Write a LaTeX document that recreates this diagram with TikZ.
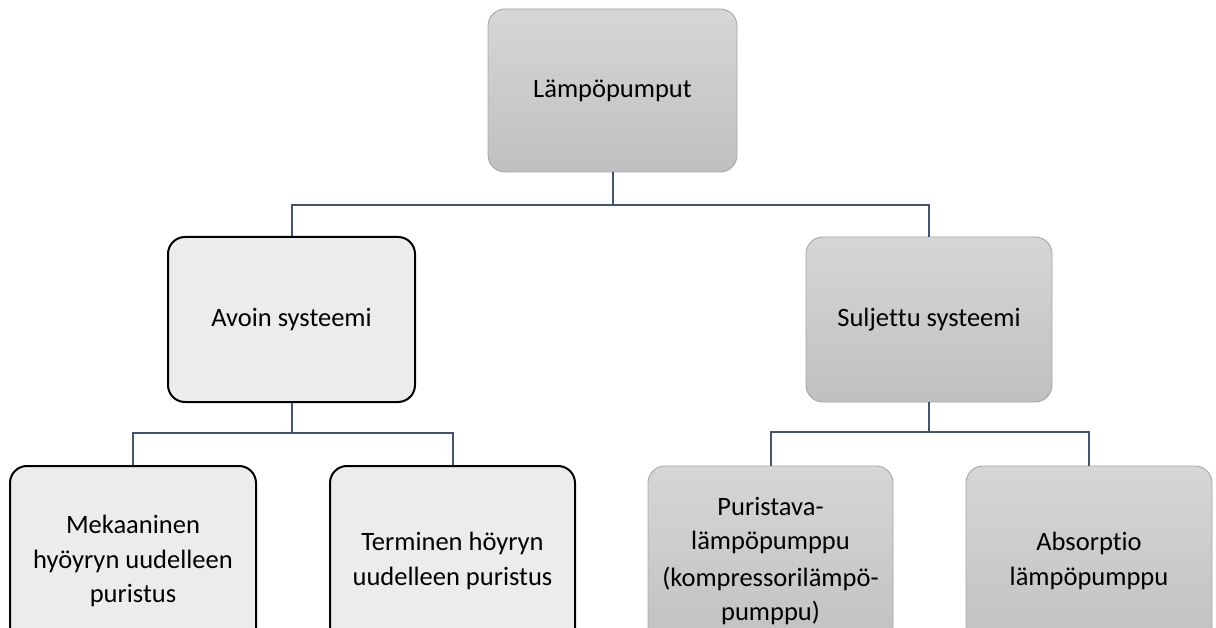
\documentclass[tikz,border=0pt]{standalone}
\usepackage{fontspec}
\setmainfont{Carlito}[Ligatures={NoCommon,NoRare,NoContextual}]
\definecolor{conncol}{HTML}{44546A}
\definecolor{lightfill}{HTML}{ECECEC}
\definecolor{graytop}{HTML}{D6D6D6}
\definecolor{graybot}{HTML}{C0C0C0}
\definecolor{grayline}{HTML}{A6A6A6}
\begin{document}
\begin{tikzpicture}[x=1pt,y=-1pt,
  txt/.style={align=center,font=\fontsize{26.5}{34.5}\selectfont,text=black},
  graybox/.style={txt,rectangle,rounded corners=17pt,draw=grayline,line width=0.9pt,
    top color=graytop,bottom color=graybot,inner sep=0pt},
  lightbox/.style={txt,rectangle,rounded corners=17pt,draw=black,line width=2pt,
    fill=lightfill,inner sep=0pt},
  conn/.style={draw=conncol,line width=2pt,line join=miter}]
\useasboundingbox (0,0) rectangle (1216,628);
\clip (0,0) rectangle (1216,628);
\fill[white] (0,0) rectangle (1216,628);

\node[graybox,minimum width=249pt,minimum height=163pt] (top) at (612.5,90.5) {Lämpöpumput};
\node[lightbox,minimum width=247pt,minimum height=165pt] (avoin) at (291.5,319.5) {Avoin systeemi};
\node[graybox,minimum width=246pt,minimum height=165pt] (sulj) at (929,319.5) {Sulje\kern0pt t\kern0pt tu systeemi};

\node[lightbox,minimum width=246pt,minimum height=190pt] (mek) at (133,561) {Mekaaninen\\hyöyryn uudelleen\\puristus};
\node[lightbox,minimum width=245pt,minimum height=190pt] (term) at (452.5,561) {Terminen höyryn\\uudelleen puristus};
\node[graybox,minimum width=245pt,minimum height=190pt] (pur) at (770.5,561) {Puristava-\\lämpöpumppu\\[2pt](kompressorilämpö-\\pumppu)};
\node[graybox,minimum width=246pt,minimum height=190pt] (abs) at (1089,561) {Absorpt\kern0pt io\\lämpöpumppu};

\draw[conn] (top.south) -- ++(0,33) coordinate (j1);
\draw[conn] (avoin.north) |- (j1) -| (sulj.north);
\draw[conn] (avoin.south) -- ++(0,30) coordinate (j2);
\draw[conn] (mek.north) |- (j2) -| (term.north);
\draw[conn] (sulj.south) -- ++(0,30) coordinate (j3);
\draw[conn] (pur.north) |- (j3) -| (abs.north);
\end{tikzpicture}
\end{document}
